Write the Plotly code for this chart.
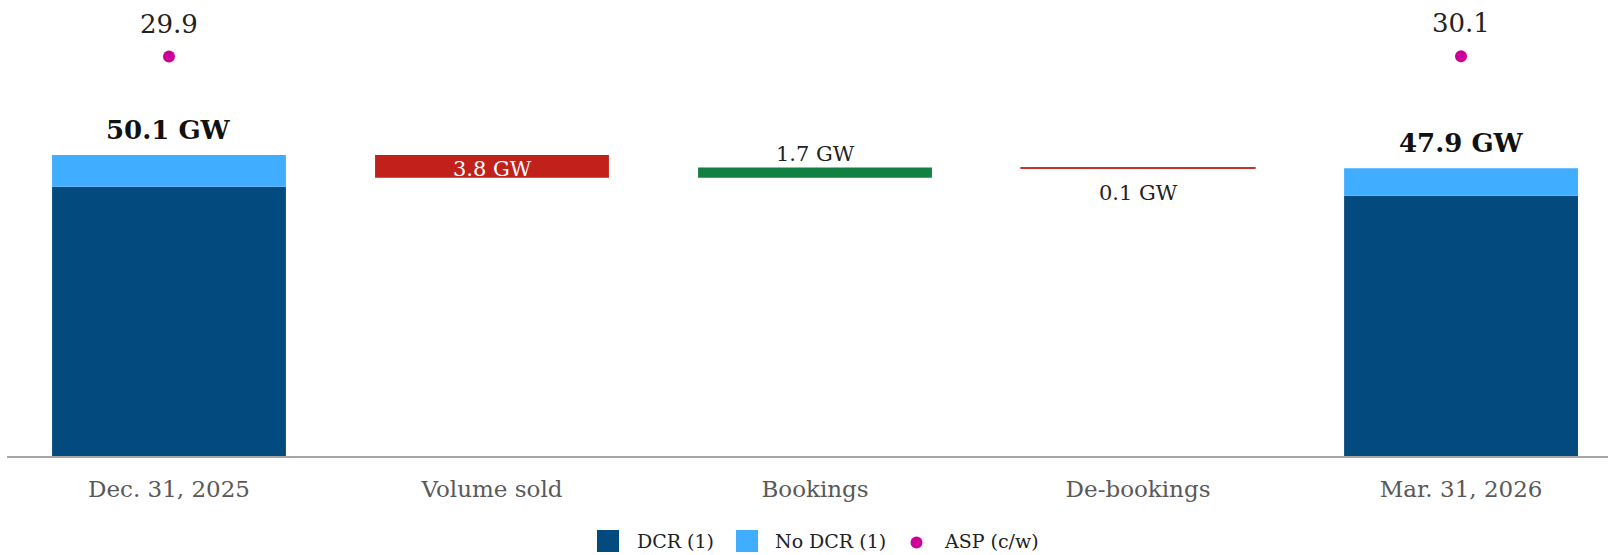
import plotly.graph_objects as go

# Backlog bridge, GW
categories = ["Dec. 31, 2025", "Volume sold", "Bookings", "De-bookings", "Mar. 31, 2026"]
total_cats = ["Dec. 31, 2025", "Mar. 31, 2026"]
dcr_gw = [44.8, 43.3]
no_dcr_gw = [5.3, 4.6]
change_cats = ["Volume sold", "Bookings", "De-bookings"]
change_gw = [-3.8, 1.7, -0.1]
asp_cents = [29.9, 30.1]
legend_names = ["DCR (1)", "No DCR (1)", "ASP (c/w)"]

FONT = "DejaVu Serif"
DCR_COLOR = "#034A7E"
NO_DCR_COLOR = "#41ADFE"
ASP_COLOR = "#CC0099"
change_colors = ["#C0211A", "#108043", "#C8302A"]
BAR_W = 0.724

# figure geometry (px)
W, H = 1608, 555
M_L, M_R, M_T, M_B = 7, 0, 0, 99
PLOT_W = W - M_L - M_R
PLOT_H = H - M_T - M_B


def px_x(px):
    return (px - M_L) / PLOT_W


def px_y(py):
    return (H - M_B - py) / PLOT_H


totals = [d + n for d, n in zip(dcr_gw, no_dcr_gw)]

# floating bars for the bridge steps
running = totals[0]
change_base, change_height = [], []
for c in change_gw:
    change_base.append(running + c if c < 0 else running)
    change_height.append(abs(c))
    running += c

fig = go.Figure()

fig.add_trace(go.Bar(
    x=total_cats, y=dcr_gw, base=[0] * len(dcr_gw), width=BAR_W,
    marker=dict(color=DCR_COLOR, line=dict(width=0)),
    name=legend_names[0], showlegend=False, hoverinfo="skip",
))
fig.add_trace(go.Bar(
    x=total_cats, y=no_dcr_gw, base=dcr_gw, width=BAR_W,
    marker=dict(color=NO_DCR_COLOR, line=dict(width=0)),
    name=legend_names[1], showlegend=False, hoverinfo="skip",
))
fig.add_trace(go.Bar(
    x=change_cats, y=change_height, base=change_base, width=BAR_W,
    marker=dict(color=change_colors, line=dict(color=change_colors, width=[0, 0, 1.4])),
    showlegend=False, hoverinfo="skip",
))

# ASP on its own (hidden) secondary axis
fig.add_trace(go.Scatter(
    x=total_cats, y=asp_cents, yaxis="y2", mode="markers",
    marker=dict(color=ASP_COLOR, size=12),
    name=legend_names[2], showlegend=False, hoverinfo="skip",
))

annotations = []
for cat, tot in zip(total_cats, totals):
    annotations.append(dict(
        x=cat, y=tot, xref="x", yref="y", text=f"<b>{tot:.1f} GW</b>",
        showarrow=False, yshift=25, yanchor="middle",
        font=dict(family=FONT, size=26, color="#111111"),
    ))
for cat, a in zip(total_cats, asp_cents):
    annotations.append(dict(
        x=cat, y=a, xref="x", yref="y2", text=f"{a:.1f}",
        showarrow=False, yshift=33, yanchor="middle",
        font=dict(family=FONT, size=26, color="#222222"),
    ))

# step labels: inside / above / below the floating bar
placements = ["inside", "above", "below"]
for cat, c, b, h, place in zip(change_cats, change_gw, change_base, change_height, placements):
    label = f"{abs(c):.1f} GW"
    if place == "inside":
        y, shift, color = b + h / 2, -3, "white"
    elif place == "above":
        y, shift, color = b + h, 14, "#222222"
    else:
        y, shift, color = b, -25, "#222222"
    annotations.append(dict(x=cat, y=y, xref="x", yref="y", text=label,
                            showarrow=False, yshift=shift, yanchor="middle",
                            font=dict(family=FONT, size=21, color=color)))

# legend row drawn below the axis
LEG_Y = 541
shapes = [
    dict(type="rect", xref="paper", yref="paper",
         x0=px_x(597), x1=px_x(619), y0=px_y(LEG_Y + 11), y1=px_y(LEG_Y - 11),
         fillcolor=DCR_COLOR, line=dict(width=0)),
    dict(type="rect", xref="paper", yref="paper",
         x0=px_x(736), x1=px_x(758), y0=px_y(LEG_Y + 11), y1=px_y(LEG_Y - 11),
         fillcolor=NO_DCR_COLOR, line=dict(width=0)),
    dict(type="circle", xref="paper", yref="paper",
         x0=px_x(910.5), x1=px_x(922.5), y0=px_y(LEG_Y + 7.5), y1=px_y(LEG_Y - 4.5),
         fillcolor=ASP_COLOR, line=dict(width=0)),
]
for name, tx in zip(legend_names, [635, 773, 942]):
    annotations.append(dict(
        x=px_x(tx), y=px_y(LEG_Y), xref="paper", yref="paper", text=name,
        showarrow=False, xanchor="left", yanchor="middle",
        font=dict(family=FONT, size=19, color="#222222"),
    ))

fig.update_layout(
    width=W, height=H,
    margin=dict(l=M_L, r=M_R, t=M_T, b=M_B),
    paper_bgcolor="white", plot_bgcolor="white",
    barmode="overlay",
    font=dict(family=FONT, color="#222222"),
    xaxis=dict(
        type="category", categoryorder="array", categoryarray=categories,
        range=[-0.5015, 4.455], showgrid=False, zeroline=False,
        showline=True, linecolor="#A6A6A6", linewidth=2,
        ticks="", ticklabelstandoff=11,
        tickfont=dict(family=FONT, size=23, color="#595959"),
    ),
    yaxis=dict(range=[0, 75.9], visible=False, showgrid=False, zeroline=False),
    yaxis2=dict(range=[-269.7, 72.3], overlaying="y", side="right", visible=False,
                showgrid=False, zeroline=False),
    shapes=shapes,
    annotations=annotations,
    showlegend=False,
)

fig.write_html("out.html")
